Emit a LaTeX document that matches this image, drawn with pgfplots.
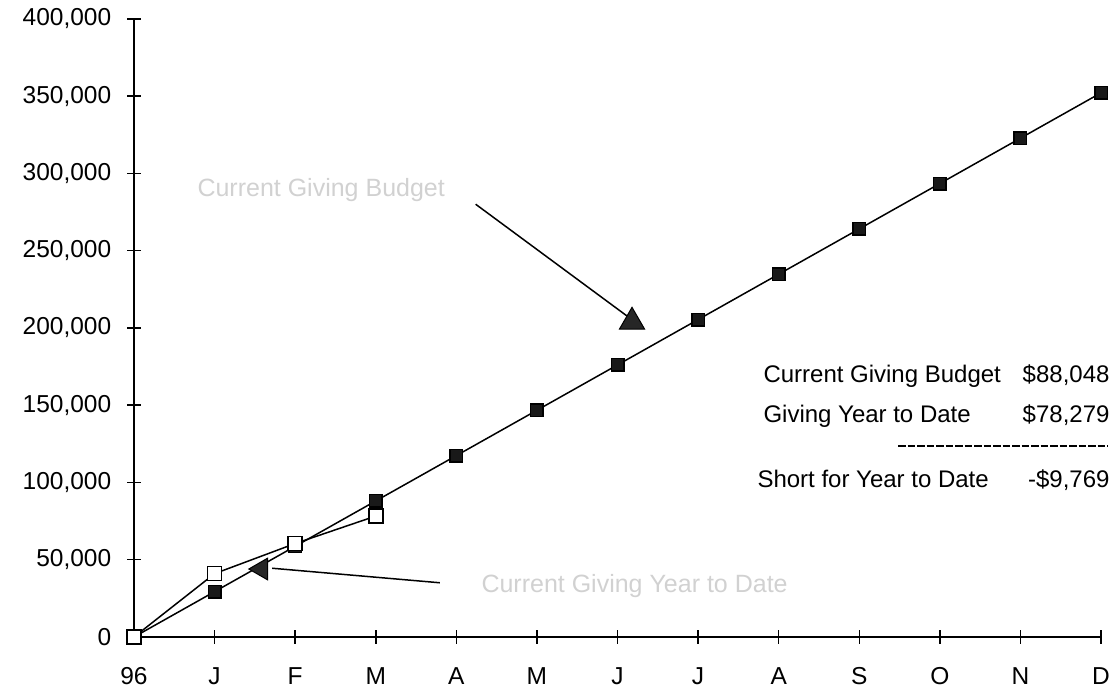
\documentclass[border=0pt]{standalone}
\usepackage{pgfplots}
\pgfplotsset{compat=1.18}
\usepackage{fontspec}
\setmainfont{Liberation Sans}
\begin{document}
\fontsize{9.6}{11}\selectfont
\begin{tikzpicture}
\useasboundingbox (0,0) rectangle (446.4pt,277.6pt);
\begin{axis}[
  at={(53.6pt,22.8pt)}, anchor=south west,
  scale only axis, width=386.8pt, height=247.2pt,
  xmin=0, xmax=12, ymin=0, ymax=400000,
  axis lines*=left,
  axis line style={line width=0.6pt},
  clip=false,
  xtick={0,...,12},
  xticklabels={96,J,F,M,A,M,J,J,A,S,O,N,D},
  ytick={0,50000,100000,150000,200000,250000,300000,350000,400000},
  yticklabels={0,{50,000},{100,000},{150,000},{200,000},{250,000},{300,000},{350,000},{400,000}},
  scaled y ticks=false,
  tick align=center,
  major tick length=5.4pt,
  tick style={black, line width=0.6pt},
  yticklabel style={font=\fontsize{9.8}{11}\selectfont, xshift=-3pt},
  xticklabel style={font=\fontsize{9.8}{11}\selectfont, text height=7pt, text depth=0pt, yshift=-6pt},
]
\addplot[black, line width=0.6pt, mark=square*, mark size=2.5pt, mark options={fill=black!90, draw=black}]
 coordinates {(0,0)(1,29349)(2,58699)(3,88048)(4,117397)(5,146746)(6,176096)(7,205445)(8,234794)(9,264144)(10,293493)(11,322842)(12,352192)};
\addplot[black, line width=0.6pt, mark=square*, mark size=2.8pt, mark options={fill=white, draw=black}]
 coordinates {(0,0)(1,41000)(2,60500)(3,78279)};
% arrows
\addplot[black, line width=0.6pt, no marks] coordinates {(4.24,280100)(6.13,207300)};
\addplot[black, line width=0.6pt, no marks] coordinates {(3.795,35100)(1.715,44500)};
\addplot[only marks, mark=triangle*, mark size=5.8pt, mark options={fill=black!85, draw=black}] coordinates {(6.18,204000)};
\addplot[only marks, mark=triangle*, mark size=5pt, mark options={rotate=90, fill=black!85, draw=black}] coordinates {(1.58,44000)};
\end{axis}
\begin{scope}[x=0.4pt, y=-0.4pt, shift={(0,277.6pt)}]
\node[anchor=base west, inner sep=0pt, text=black!18, font=\fontsize{10}{12}\selectfont] at (197,197) {Current Giving Budget};
\node[anchor=base west, inner sep=0pt, text=black!18, font=\fontsize{10}{12}\selectfont] at (481,593) {Current Giving Year to Date};
\node[anchor=base west, inner sep=0pt] at (763,383) {Current Giving Budget};
\node[anchor=base east, inner sep=0pt] at (1110,383) {\$88,048};
\node[anchor=base west, inner sep=0pt] at (763,423) {Giving Year to Date};
\node[anchor=base east, inner sep=0pt] at (1110,423) {\$78,279};
\draw[line width=0.6pt, dash pattern=on 3pt off 0.8pt] (898,446) -- (1108,446);
\node[anchor=base west, inner sep=0pt] at (757,488) {Short for Year to Date};
\node[anchor=base east, inner sep=0pt] at (1110,488) {-\$9,769};
\end{scope}
\end{tikzpicture}
\end{document}
